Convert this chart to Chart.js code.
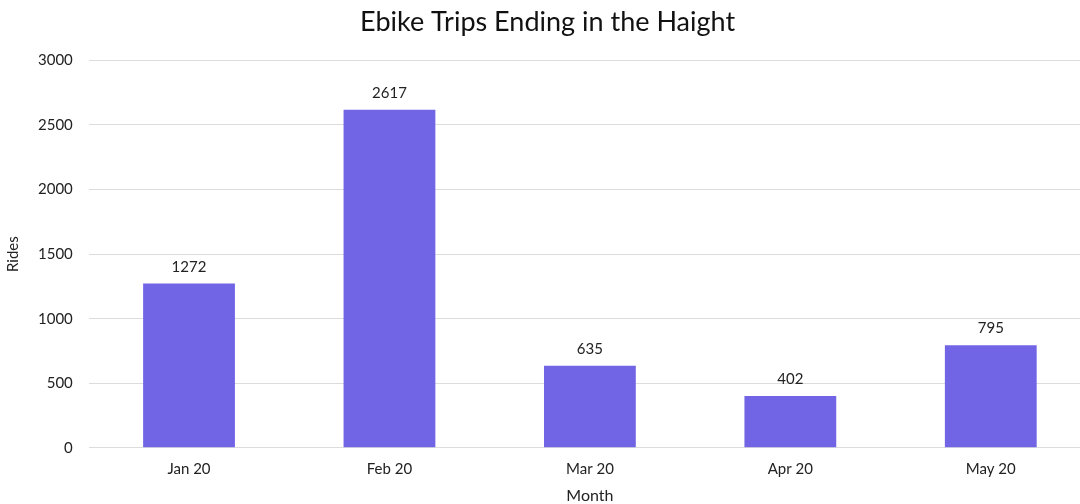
<!DOCTYPE html>
<html>
<head>
<meta charset="utf-8">
<script src="https://cdn.jsdelivr.net/npm/chart.js@4/dist/chart.umd.min.js"></script>
<style>
  html, body { margin: 0; padding: 0; background: #fff; overflow: hidden; }
  #wrap { width: 1100px; height: 509px; }
</style>
</head>
<body>
<div id="wrap"><canvas id="c" width="1100" height="509"></canvas></div>
<script>
const months = ['Jan 20', 'Feb 20', 'Mar 20', 'Apr 20', 'May 20'];
const rides = [1272, 2617, 635, 402, 795];
const yTicks = [0, 500, 1000, 1500, 2000, 2500, 3000];

// labels above bars
const barLabels = {
  id: 'barLabels',
  afterDatasetsDraw(chart) {
    const ctx = chart.ctx;
    const meta = chart.getDatasetMeta(0);
    ctx.save();
    ctx.font = '15px Lato';
    ctx.fillStyle = '#222';
    ctx.textAlign = 'center';
    ctx.textBaseline = 'bottom';
    meta.data.forEach((bar, i) => {
      ctx.fillText(String(rides[i]), bar.x, bar.y - 9);
    });
    ctx.restore();
  }
};

new Chart(document.getElementById('c').getContext('2d'), {
  type: 'bar',
  data: {
    labels: months,
    datasets: [{
      data: rides,
      backgroundColor: '#7165E6',
      barPercentage: 0.458,
      categoryPercentage: 1
    }]
  },
  options: {
    responsive: false,
    animation: false,
    devicePixelRatio: 1,
    layout: { padding: { left: 4, right: 9, top: 4, bottom: 0 } },
    plugins: {
      legend: { display: false },
      tooltip: { enabled: false },
      title: {
        display: true,
        text: 'Ebike Trips Ending in the Haight',
        color: '#111',
        font: { family: 'Lato', size: 27, weight: 'normal' },
        padding: { top: 2, bottom: 22 }
      }
    },
    scales: {
      x: {
        grid: { display: false },
        border: { display: false },
        ticks: { color: '#222', font: { family: 'Lato', size: 15 }, padding: 4 },
        title: { display: true, text: 'Month', color: '#222', font: { family: 'Lato', size: 16 }, padding: { top: 4 } }
      },
      y: {
        min: 0,
        max: 3000,
        afterBuildTicks(scale) { scale.ticks = yTicks.map(v => ({ value: v })); },
        grid: { color: '#dcdcdc', drawTicks: false },
        border: { display: false },
        ticks: { color: '#222', font: { family: 'Lato', size: 15 }, padding: 16, callback: v => String(v) },
        title: { display: true, text: 'Rides', color: '#222', font: { family: 'Lato', size: 15 }, padding: { top: 0, bottom: 0 } }
      }
    }
  },
  plugins: [barLabels]
});
</script>
</body>
</html>
